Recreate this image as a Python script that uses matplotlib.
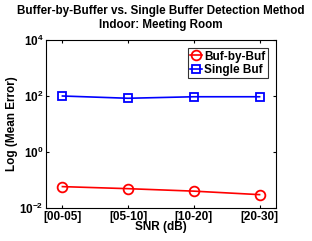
import matplotlib
matplotlib.use("Agg")
import matplotlib.pyplot as plt

categories = ["[00-05]", "[05-10]", "[10-20]", "[20-30]"]
buf_by_buf = [0.058, 0.049, 0.040, 0.030]
single_buf = [100, 83, 94, 94]

plt.rcParams['font.family'] = ['Liberation Sans', 'DejaVu Sans']
plt.rcParams['font.weight'] = 'bold'

fig = plt.figure(figsize=(3.12, 2.41), dpi=100)
ax = fig.add_axes([46/312, 1-208/241, 230/312, 168/241])
x = list(range(1, len(categories)+1))
ax.plot(x, buf_by_buf, color='red', marker='o', markersize=7, markerfacecolor='none',
        markeredgewidth=1.3, linewidth=1.2, label='Buf-by-Buf')
ax.plot(x, single_buf, color='blue', marker='s', markersize=5.5, markerfacecolor='none',
        markeredgewidth=1.3, linewidth=1.2, label='Single Buf')
ax.set_yscale('log')
ax.set_ylim(1e-2, 1e4)
ax.set_xlim(0.75, 4.25)
ax.set_xticks(x)
ax.set_xticklabels(categories, fontsize=8.5, fontweight='bold')
ax.set_yticks([1e-2, 1e0, 1e2, 1e4])
ax.minorticks_off()
ax.tick_params(axis='both', direction='in', top=True, right=True, length=2, labelsize=8.5, pad=2)
for lab in ax.get_yticklabels():
    lab.set_fontweight('bold')
ax.set_xlabel('SNR (dB)', fontsize=8.5, fontweight='bold', labelpad=-1)
ax.set_ylabel('Log (Mean Error)', fontsize=8.5, fontweight='bold', labelpad=1)
ax.set_title('Buffer-by-Buffer vs. Single Buffer Detection Method\nIndoor: Meeting Room',
             fontsize=8.4, fontweight='bold', pad=9, linespacing=1.15)
leg = ax.legend(loc='upper right', fontsize=8.5, frameon=True, fancybox=False,
                edgecolor='black', handlelength=1.0, handletextpad=0.2,
                borderpad=0.2, labelspacing=0.1, borderaxespad=0.7)
leg.get_frame().set_linewidth(0.8)
for s in ax.spines.values():
    s.set_linewidth(0.8)
fig.savefig('out.png', dpi=100)
